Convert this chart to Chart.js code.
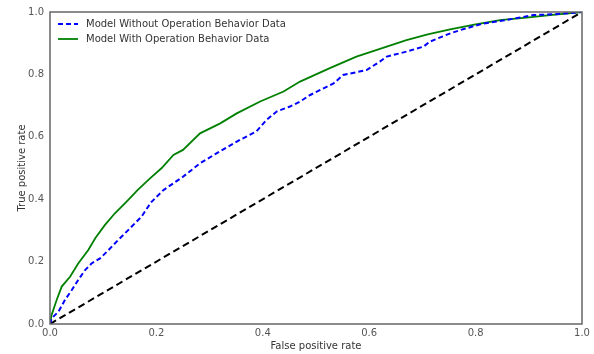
<!DOCTYPE html>
<html>
<head>
<meta charset="utf-8">
<script src="https://cdn.jsdelivr.net/npm/chart.js@4/dist/chart.umd.min.js"></script>
<style>
  html, body { margin: 0; padding: 0; background: #fff; }
  #wrap { width: 594px; height: 354px; }
</style>
</head>
<body>
<div id="wrap"><canvas id="c" width="594" height="354"></canvas></div>
<script>
const seriesLabels = ["Model Without Operation Behavior Data", "Model With Operation Behavior Data"];
const xTickValues = [0.0, 0.2, 0.4, 0.6, 0.8, 1.0];
const yTickValues = [0.0, 0.2, 0.4, 0.6, 0.8, 1.0];

const fprWithout = [0,0.003,0.016,0.028,0.041,0.053,0.066,0.078,0.094,0.11,0.128,0.147,0.172,0.19,0.213,0.25,0.282,0.313,0.357,0.388,0.407,0.426,0.451,0.47,0.489,0.533,0.551,0.595,0.62,0.633,0.67,0.702,0.714,0.75,0.771,0.814,0.86,0.908,0.95,1];
const tprWithout = [0,0.018,0.04,0.077,0.109,0.141,0.173,0.194,0.21,0.237,0.269,0.301,0.344,0.39,0.429,0.472,0.515,0.547,0.59,0.617,0.654,0.681,0.697,0.713,0.734,0.771,0.798,0.814,0.841,0.857,0.873,0.889,0.905,0.93,0.942,0.963,0.975,0.99,0.993,1];

const fprWith = [0,0.003,0.0125,0.022,0.038,0.053,0.072,0.085,0.103,0.122,0.144,0.165,0.188,0.21,0.232,0.25,0.282,0.32,0.351,0.395,0.439,0.47,0.526,0.576,0.633,0.67,0.71,0.752,0.8,0.846,0.9,0.94,1];
const tprWith = [0,0.029,0.077,0.12,0.152,0.194,0.237,0.275,0.317,0.355,0.392,0.43,0.467,0.5,0.542,0.558,0.611,0.643,0.675,0.713,0.745,0.777,0.82,0.857,0.889,0.91,0.928,0.944,0.96,0.974,0.983,0.99,1];

const fprChance = [0, 1];
const tprChance = [0, 1];

const toPts = (xs, ys) => xs.map((x, i) => ({x: x, y: ys[i]}));

const FONT = "'DejaVu Sans', sans-serif";

const framePlugin = {
  id: 'frame',
  afterDraw(chart) {
    const {ctx, chartArea: a} = chart;
    ctx.save();
    ctx.strokeStyle = '#666';
    ctx.lineWidth = 1.5;
    ctx.strokeRect(a.left, a.top, a.right - a.left, a.bottom - a.top);
    // legend
    ctx.font = '10px ' + FONT;
    ctx.textBaseline = 'middle';
    ctx.textAlign = 'left';
    [0, 1].forEach((di, k) => {
      const ds = chart.data.datasets[di];
      const y = a.top + 12 + k * 15;
      ctx.strokeStyle = ds.borderColor;
      ctx.lineWidth = ds.borderWidth;
      ctx.setLineDash(ds.borderDash || []);
      ctx.beginPath();
      ctx.moveTo(a.left + 8, y);
      ctx.lineTo(a.left + 28, y);
      ctx.stroke();
      ctx.setLineDash([]);
      ctx.fillStyle = '#333';
      ctx.fillText(ds.label, a.left + 36, y);
    });
    ctx.restore();
  }
};

new Chart(document.getElementById('c'), {
  type: 'line',
  data: {
    datasets: [
      {label: seriesLabels[0], data: toPts(fprWithout, tprWithout), borderColor: '#0000ff', borderWidth: 2, borderDash: [5, 3], pointRadius: 0, fill: false, tension: 0},
      {label: seriesLabels[1], data: toPts(fprWith, tprWith), borderColor: '#008000', borderWidth: 1.8, pointRadius: 0, fill: false, tension: 0},
      {label: 'chance', data: toPts(fprChance, tprChance), borderColor: '#000000', borderWidth: 2, borderDash: [7, 4], pointRadius: 0, fill: false, tension: 0}
    ]
  },
  options: {
    responsive: false,
    animation: false,
    layout: {padding: {top: 12, right: 12, left: 0, bottom: 0}},
    plugins: {legend: {display: false}, tooltip: {enabled: false}},
    scales: {
      x: {
        type: 'linear', min: 0, max: 1,
        afterBuildTicks: (s) => { s.ticks = xTickValues.map(v => ({value: v})); },
        afterFit: (s) => { s.height = 30; },
        grid: {display: false, drawTicks: false},
        border: {display: false},
        ticks: {padding: 3, color: '#555', font: {family: FONT, size: 10}, maxRotation: 0, callback: (v) => Number(v).toFixed(1)},
        title: {display: true, text: 'False positive rate', color: '#333', font: {family: FONT, size: 10}, padding: {top: 0, bottom: 2}}
      },
      y: {
        type: 'linear', min: 0, max: 1,
        afterBuildTicks: (s) => { s.ticks = yTickValues.map(v => ({value: v})); },
        afterFit: (s) => { s.width = 50; },
        grid: {display: false, drawTicks: false},
        border: {display: false},
        ticks: {padding: 6, color: '#555', font: {family: FONT, size: 10}, callback: (v) => Number(v).toFixed(1)},
        title: {display: true, text: 'True positive rate', color: '#333', font: {family: FONT, size: 10}, padding: {top: 16, bottom: 0}}
      }
    }
  },
  plugins: [framePlugin]
});
</script>
</body>
</html>
